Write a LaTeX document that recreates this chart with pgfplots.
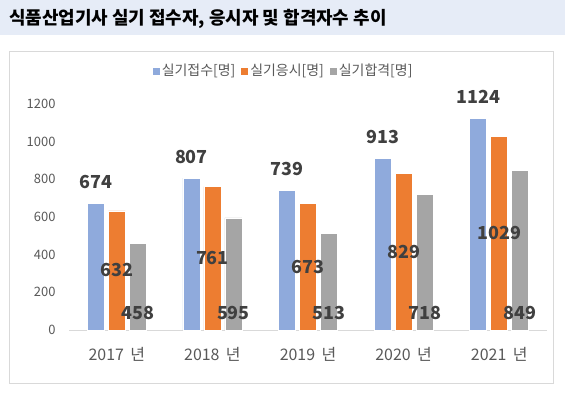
\documentclass[border=0pt]{standalone}
\usepackage{fontspec}
\setmainfont{Noto Sans CJK KR}
\usepackage{pgfplots}
\pgfplotsset{compat=1.18}
\definecolor{cblue}{HTML}{8FAADC}
\definecolor{corange}{HTML}{ED7D31}
\definecolor{cgray}{HTML}{A5A5A5}
\definecolor{band}{HTML}{E6ECF7}
\definecolor{boxline}{HTML}{D9D9D9}
\definecolor{txtgray}{HTML}{595959}
\definecolor{lblgray}{HTML}{404040}
\begin{document}
\begin{tikzpicture}[x=1bp,y=1bp]
\fill[white] (0,0) rectangle (565,394);
\fill[band] (0,359) rectangle (565,394);
\draw[boxline, line width=1bp] (9.5,10.5) rectangle (553.5,343);
\node[anchor=west, inner sep=0pt, font=\fontsize{18}{20}\selectfont\bfseries] at (9,375) {식품산업기사 실기 접수자, 응시자 및 합격자수 추이};
\begin{axis}[
  at={(69bp,64bp)}, anchor=south west,
  scale only axis, width=478bp, height=226bp,
  xmin=-0.5, xmax=4.5, ymin=0, ymax=1200,
  clip=false,
  ybar=4bp, bar width=17bp,
  axis x line*=bottom, axis y line*=left,
  x axis line style={boxline, line width=1bp, -},
  y axis line style={draw=none},
  major tick length=0pt,
  xtick={0,1,2,3,4},
  xticklabels={2017\hspace{0.4em}년,2018\hspace{0.4em}년,2019\hspace{0.4em}년,2020\hspace{0.4em}년,2021\hspace{0.4em}년},
  x tick label style={font=\fontsize{16}{18}\selectfont, text=txtgray, yshift=-14bp},
  ytick={0,200,400,600,800,1000,1200},
  y tick label style={font=\fontsize{13}{15}\selectfont, text=txtgray, xshift=-10bp},
  /pgf/number format/assume math mode=true,
  /pgf/number format/1000 sep={},
  legend style={at={(0.449,1.15)}, anchor=center, draw=none, fill=none,
    legend columns=-1, font=\fontsize{14}{16}\selectfont, text=txtgray,
    /tikz/every even column/.append style={column sep=4bp},
    /tikz/every odd column/.append style={column sep=0bp}},
  legend image code/.code={\fill[#1,draw=none] (0bp,-4.5bp) rectangle (7bp,2.5bp);},
  visualization depends on={rawy \as \rawy},
  nodes near coords,
  every node near coord/.append style={font=\fontsize{18}{20}\selectfont\bfseries, text=lblgray},
]
\addplot[fill=cblue, draw=white, line width=0.75bp,
  every node near coord/.append style={anchor=south, yshift=11bp}]
  coordinates {(0,674) (1,807) (2,739) (3,913) (4,1124)};
\addplot[fill=corange, draw=white, line width=0.75bp,
  every node near coord/.append style={anchor=center, yshift={-0.0941667*\rawy*1bp}}]
  coordinates {(0,632) (1,761) (2,673) (3,829) (4,1029)};
\addplot[fill=cgray, draw=white, line width=0.75bp,
  every node near coord/.append style={anchor=center, yshift={(17-0.188333*\rawy)*1bp}}]
  coordinates {(0,458) (1,595) (2,513) (3,718) (4,849)};
\legend{실기접수[명],실기응시[명],실기합격[명]}
\end{axis}
\end{tikzpicture}
\end{document}
